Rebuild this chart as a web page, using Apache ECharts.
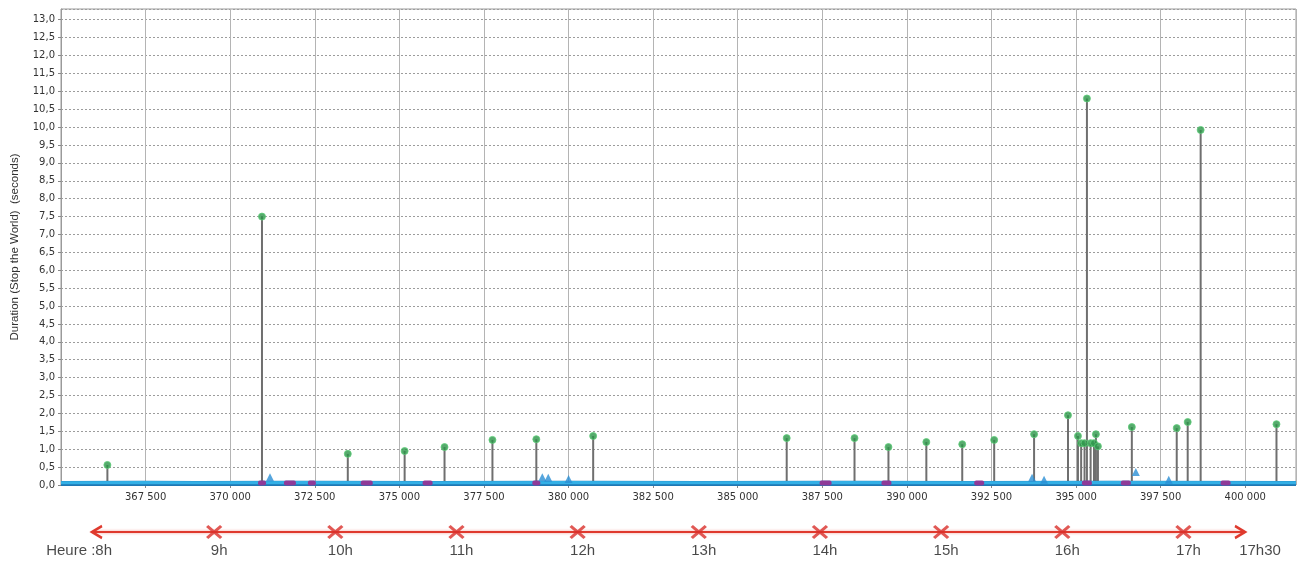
<!DOCTYPE html>
<html>
<head>
<meta charset="utf-8">
<script src="https://cdn.jsdelivr.net/npm/echarts@6/dist/echarts.min.js"></script>
<style>
html,body{margin:0;padding:0;background:#fff;}
#chart{width:1301px;height:562px;}
</style>
</head>
<body>
<div id="chart"></div>
<script>
// ---- data ----
const stemX = [366371, 370940, 373476, 375156, 376335, 377751, 379048, 380728, 386448, 388452,
               389455, 390575, 391636, 392580, 393759, 394761, 395056, 395150, 395250, 395321,
               395430, 395530, 395587, 395646, 396648, 397975, 398299, 398682, 400923];
const stemY = [0.56, 7.5, 0.87, 0.95, 1.06, 1.26, 1.28, 1.37, 1.31, 1.31,
               1.06, 1.2, 1.14, 1.26, 1.42, 1.95, 1.37, 1.17, 1.17, 10.8,
               1.17, 1.17, 1.42, 1.08, 1.62, 1.59, 1.76, 9.92, 1.70];
const triX = [371176, 379225, 379400, 380000, 393700, 394054, 396766, 397739];
const triY = [0.22, 0.22, 0.2, 0.17, 0.2, 0.15, 0.36, 0.15];
const purpleStart = [370823, 371589, 372297, 373859, 375687, 378930, 387420, 389248, 391990, 395173, 396323, 399271];
const purpleEnd   = [371059, 371943, 372533, 374213, 375982, 379166, 387774, 389543, 392284, 395468, 396618, 399566];
const baseX = [365000, 367400, 369000, 372000, 376000, 380000, 384000, 388000, 392000, 396000, 401500];
const baseY = [0.04, 0.05, 0.04, 0.05, 0.04, 0.05, 0.04, 0.05, 0.04, 0.05, 0.04];
const hourVals = [8, 9, 10, 11, 12, 13, 14, 15, 16, 17, 17.5];
const hourLabels = ['Heure :8h', '9h', '10h', '11h', '12h', '13h', '14h', '15h', '16h', '17h', '17h30'];
const hourMarks = [9, 10, 11, 12, 13, 14, 15, 16, 17];
const xMin = 365000, xMax = 401500, xStep = 2500;
const yMin = 0, yMax = 13.3, yStep = 0.5;
const yName = 'Duration (Stop the World)  (seconds)';

// ---- chart ----
const chart = echarts.init(document.getElementById('chart'), null, {renderer: 'canvas'});
const fmtX = v => { const s = String(Math.round(v)); return s.slice(0, -3) + ' ' + s.slice(-3); };
const fmtY = v => v.toFixed(1).replace('.', ',');
const red = '#df3a2e';

const option = {
  animation: false,
  backgroundColor: '#ffffff',
  grid: [
    {left: 61, right: 5, top: 9, bottom: 77, show: true, borderColor: '#9a9a9a', borderWidth: 1, backgroundColor: '#fff'},
    {left: 93, width: 1151, top: 525, height: 14, show: false}
  ],
  xAxis: [
    {type: 'value', gridIndex: 0, min: xMin, max: xMax, interval: xStep,
     axisLine: {show: false}, axisTick: {show: true, length: 3, lineStyle: {color: '#888'}},
     axisLabel: {formatter: fmtX, showMinLabel: false, showMaxLabel: false, margin: 7,
                 fontFamily: 'DejaVu Sans', fontSize: 10, color: '#333'},
     splitLine: {show: true, lineStyle: {color: '#b4b4b4', width: 1}}},
    {type: 'value', gridIndex: 1, min: 8, max: 17.5, show: false}
  ],
  yAxis: [
    {type: 'value', gridIndex: 0, min: yMin, max: yMax, interval: yStep,
     name: yName, nameLocation: 'middle', nameGap: 40,
     nameTextStyle: {fontFamily: 'Liberation Sans', fontSize: 11.5, color: '#333'},
     axisLine: {show: true, lineStyle: {color: '#9a9a9a'}},
     axisTick: {show: true, length: 3, lineStyle: {color: '#888'}},
     axisLabel: {formatter: fmtY, showMaxLabel: false, margin: 6,
                 fontFamily: 'DejaVu Sans', fontSize: 10, color: '#333'},
     splitLine: {show: true, lineStyle: {color: '#9c9c9c', width: 1, type: [2, 2]}}},
    {type: 'value', gridIndex: 1, min: -1, max: 1, show: false}
  ],
  series: [
    { // stems
      type: 'custom', xAxisIndex: 0, yAxisIndex: 0, z: 2,
      data: stemX.map((x, i) => [x, stemY[i]]),
      renderItem: (params, api) => {
        const p0 = api.coord([api.value(0), 0]);
        const p1 = api.coord([api.value(0), api.value(1)]);
        return {type: 'line', shape: {x1: p0[0], y1: p0[1], x2: p1[0], y2: p1[1]},
                style: {stroke: '#6f6f6f', lineWidth: 2}};
      }
    },
    { // baseline (dark underside)
      type: 'line', xAxisIndex: 0, yAxisIndex: 0, z: 3, symbol: 'none',
      data: baseX.map((x, i) => [x, baseY[i]]),
      lineStyle: {color: '#1f78b4', width: 5}
    },
    { // baseline
      type: 'line', xAxisIndex: 0, yAxisIndex: 0, z: 3, symbol: 'none',
      data: baseX.map((x, i) => [x, baseY[i] + 0.02]),
      lineStyle: {color: '#33b0e6', width: 3}
    },
    { // purple segments
      type: 'custom', xAxisIndex: 0, yAxisIndex: 0, z: 4,
      data: purpleStart.map((s, i) => [s, purpleEnd[i]]),
      renderItem: (params, api) => {
        const a = api.coord([api.value(0), 0.04]);
        const b = api.coord([api.value(1), 0.04]);
        return {type: 'rect', shape: {x: a[0], y: a[1] - 3, width: b[0] - a[0], height: 5, r: 2},
                style: {fill: '#8e3a98'}};
      }
    },
    { // small blue triangles
      type: 'scatter', xAxisIndex: 0, yAxisIndex: 0, z: 5,
      symbol: 'triangle', symbolSize: 8,
      data: triX.map((x, i) => [x, triY[i]]),
      itemStyle: {color: '#2b8fd4'}
    },
    { // green dots
      type: 'scatter', xAxisIndex: 0, yAxisIndex: 0, z: 6,
      symbol: 'circle', symbolSize: 7,
      data: stemX.map((x, i) => [x, stemY[i]]),
      itemStyle: {color: '#2c9548', borderColor: '#5fd07a', borderWidth: 1}
    },
    { // time line
      type: 'line', xAxisIndex: 1, yAxisIndex: 1, z: 2,
      data: [
        {value: [hourVals[0], 0], symbol: 'path://M10,0 L0,6 L10,12', symbolSize: [10, 12], symbolOffset: [4, 0],
         itemStyle: {color: 'none', borderColor: red, borderWidth: 2.5}},
        {value: [hourVals[hourVals.length - 1], 0], symbol: 'path://M0,0 L10,6 L0,12', symbolSize: [10, 12], symbolOffset: [-4, 0],
         itemStyle: {color: 'none', borderColor: red, borderWidth: 2.5}}
      ],
      lineStyle: {color: red, width: 2, shadowBlur: 3, shadowColor: 'rgba(240,120,110,0.7)'}
    },
    { // hour cross marks
      type: 'scatter', xAxisIndex: 1, yAxisIndex: 1, z: 3,
      symbol: 'path://M0,0 L12,10 M12,0 L0,10', symbolSize: [14, 12],
      data: hourMarks.map(h => [h, 0]),
      itemStyle: {color: 'none', borderColor: '#d9302a', borderWidth: 3}
    },
    { // hour labels
      type: 'scatter', xAxisIndex: 1, yAxisIndex: 1, z: 4, symbolSize: 0,
      data: hourVals.map((h, i) => ({
        value: [h, 0],
        label: i === 0 ? {align: 'right', offset: [19, 0]} : {align: 'center', offset: [i === hourVals.length - 1 ? 16 : 5, 0]}
      })),
      label: {show: true, position: 'bottom', distance: 11,
              formatter: p => hourLabels[p.dataIndex],
              fontFamily: 'Liberation Sans', fontSize: 15, color: '#1a1a1a'}
    }
  ]
};
chart.setOption(option);
</script>
</body>
</html>
